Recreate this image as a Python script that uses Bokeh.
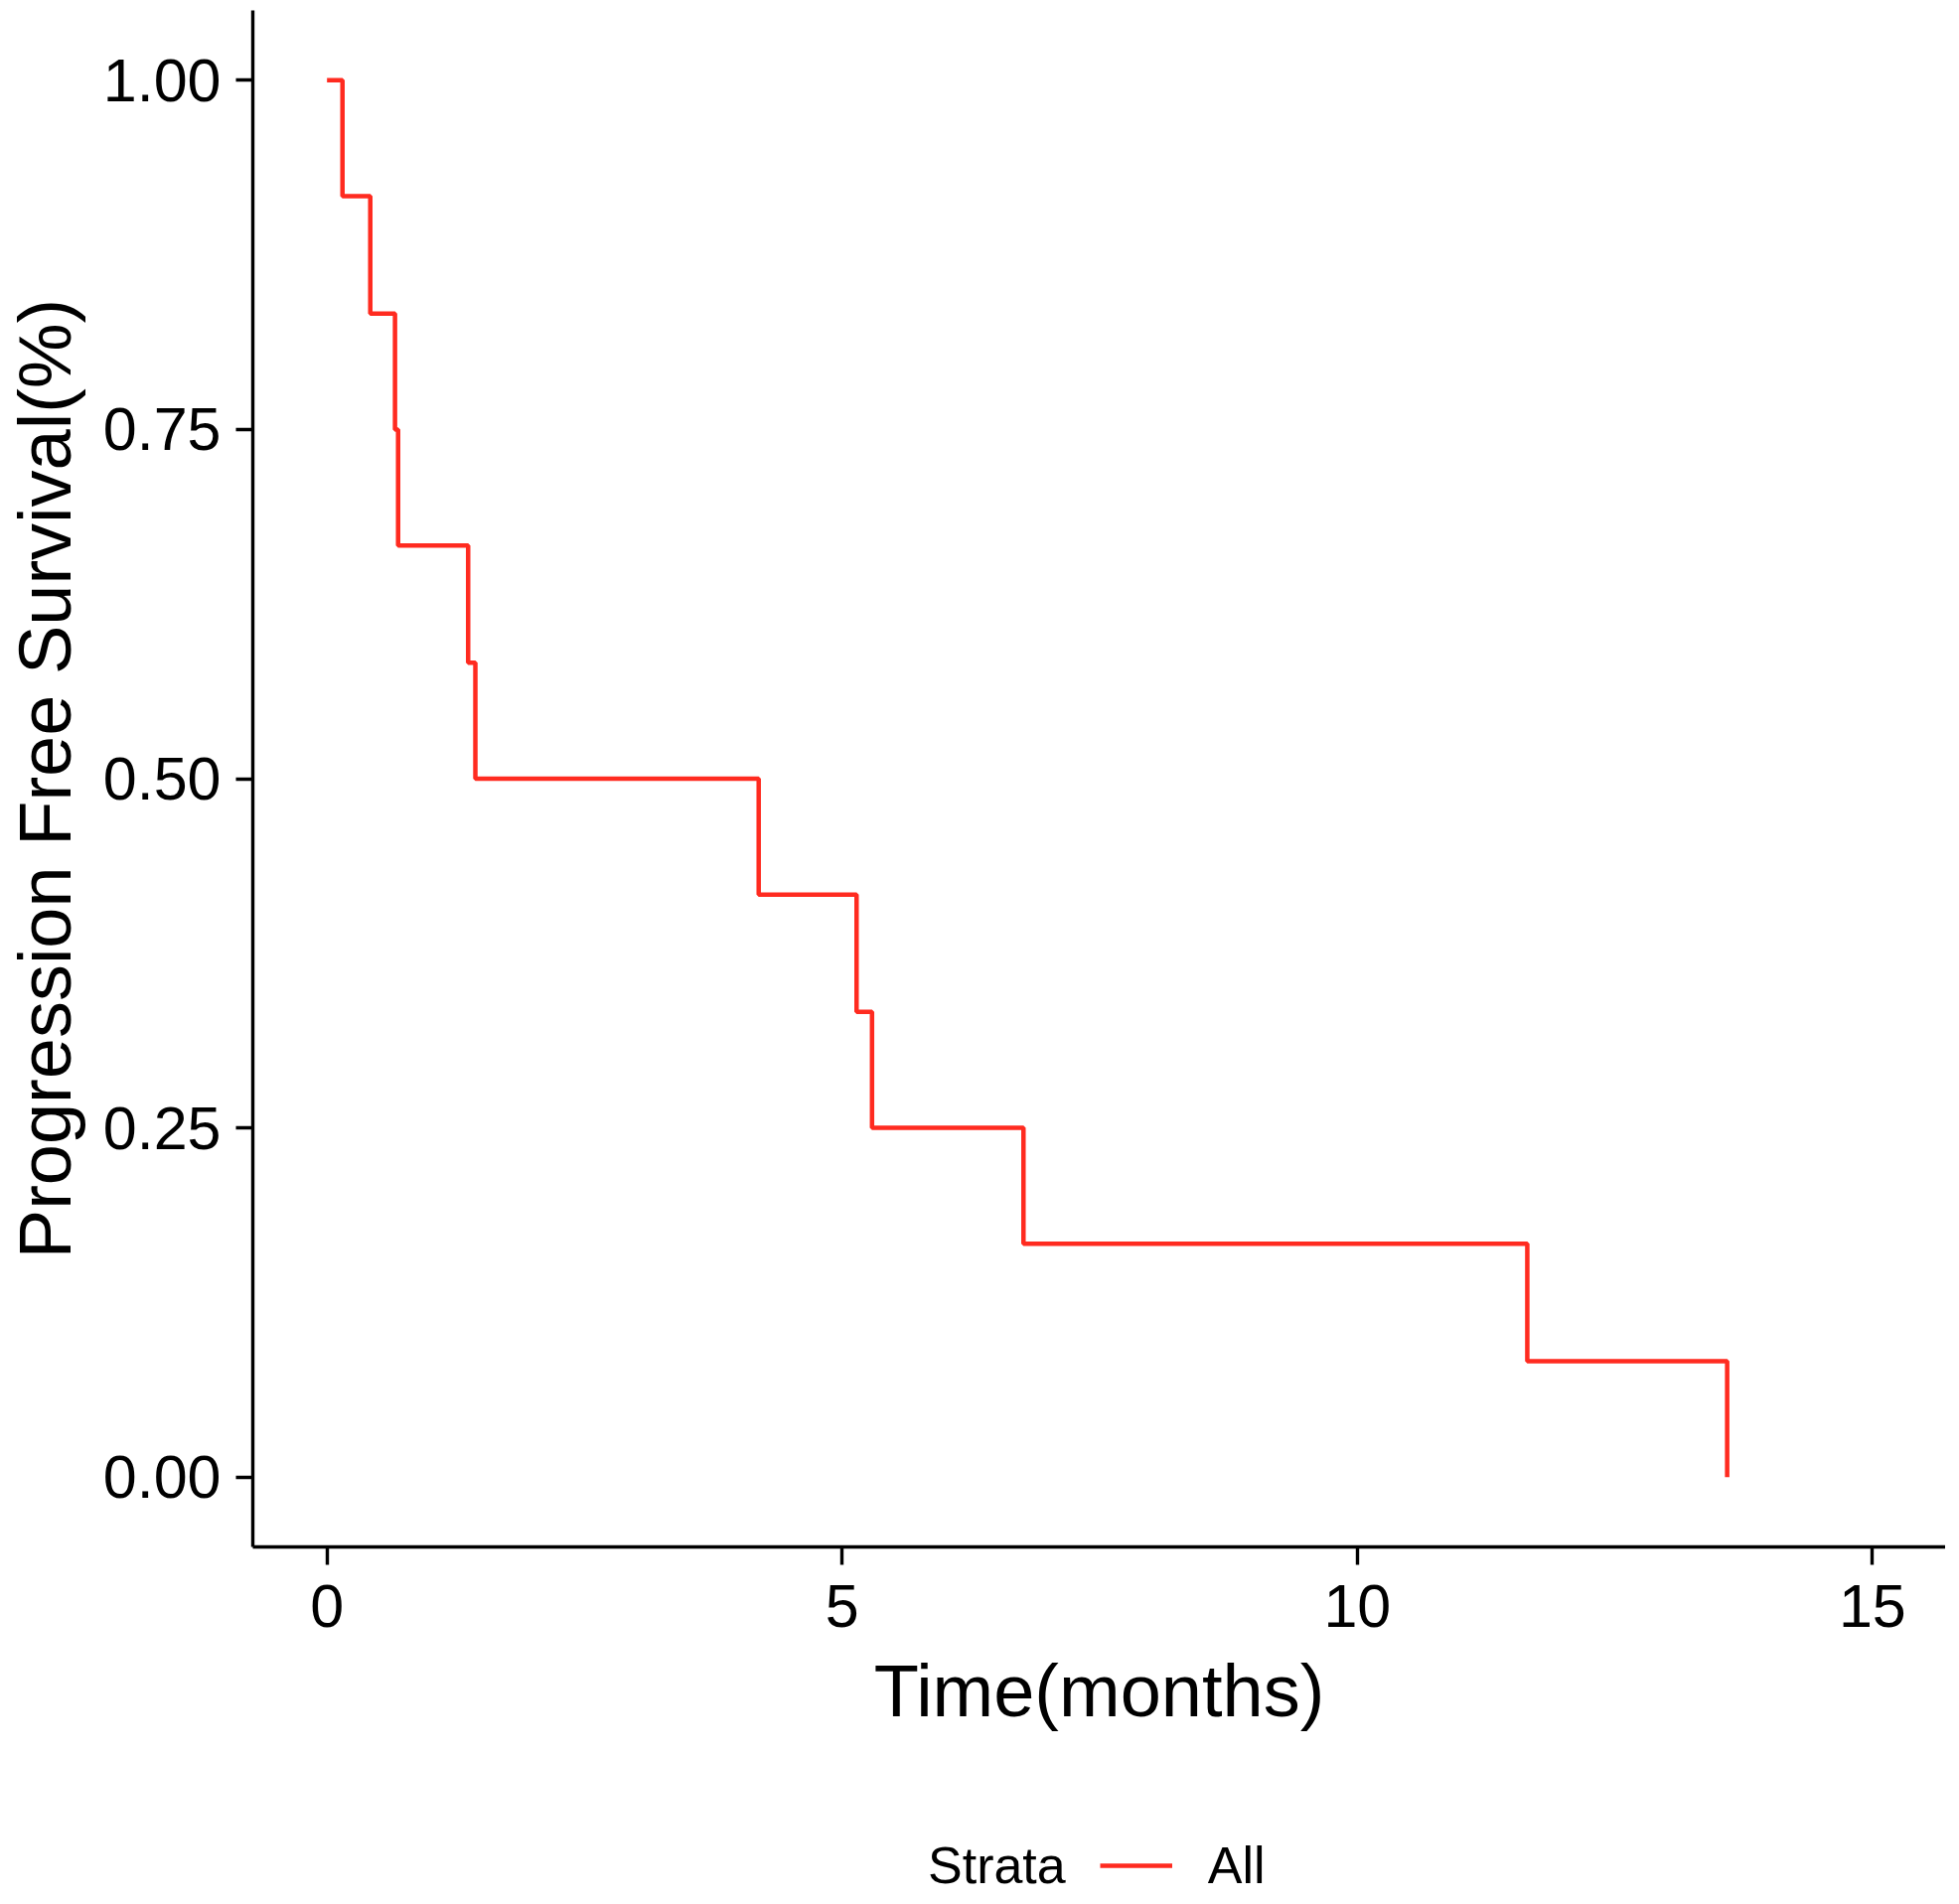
from bokeh.plotting import figure
from bokeh.layouts import column
from bokeh.models import (FixedTicker, NumeralTickFormatter, Legend, LegendItem,
                          Range1d)
from bokeh.embed import file_html
from bokeh.resources import INLINE

# Kaplan-Meier estimate (n = 12)
time_months = [0.0, 0.15, 0.42, 0.66, 0.69, 1.37, 1.44, 4.19, 5.14, 5.29, 6.76, 11.65, 13.59]
survival = [1.000, 0.917, 0.833, 0.750, 0.667, 0.583, 0.500, 0.417, 0.333, 0.250, 0.167, 0.083, 0.000]

x_ticks = [0, 5, 10, 15]
y_ticks = [0.0, 0.25, 0.50, 0.75, 1.00]
strata_title = "Strata"
strata_label = "All"

RED = "#FF2B20"
FONT = "Liberation Sans"
W = 1958
H_MAIN = 1787
H_LEG = 125

p = figure(width=W, height=H_MAIN,
           x_range=Range1d(-0.72, 15.71), y_range=Range1d(-0.05, 1.05),
           output_backend="svg", toolbar_location=None,
           min_border_left=246, min_border_right=0,
           min_border_top=10, min_border_bottom=230)
p.xgrid.grid_line_color = None
p.ygrid.grid_line_color = None
p.outline_line_color = None

for ax in (p.xaxis[0], p.yaxis[0]):
    ax.axis_line_color = "black"
    ax.axis_line_width = 3.4
    ax.major_tick_line_color = "black"
    ax.major_tick_line_width = 3.4
    ax.major_tick_in = 0
    ax.minor_tick_line_color = None
    ax.major_label_text_font = FONT
    ax.major_label_text_font_size = "61px"
    ax.major_label_text_color = "black"
    ax.axis_label_text_font = FONT
    ax.axis_label_text_font_size = "74px"
    ax.axis_label_text_font_style = "normal"
    ax.axis_label_text_color = "black"

p.xaxis[0].ticker = FixedTicker(ticks=x_ticks)
p.xaxis[0].major_tick_out = 18
p.xaxis[0].major_label_standoff = 20
p.xaxis[0].axis_label = "Time(months)"
p.xaxis[0].axis_label_standoff = 20

p.yaxis[0].ticker = FixedTicker(ticks=y_ticks)
p.yaxis[0].formatter = NumeralTickFormatter(format="0.00")
p.yaxis[0].major_tick_out = 17
p.yaxis[0].major_label_standoff = 15
p.yaxis[0].axis_label = "Progression Free Survival(%)"
p.yaxis[0].axis_label_standoff = 14

p.step(time_months, survival, mode="after", line_color=RED, line_width=4.5)

# legend strip below the plot (its frame is aligned with the plot frame)
lg = figure(width=W, height=H_LEG, x_range=Range1d(-0.72, 15.71), y_range=Range1d(0, 1),
            output_backend="svg", toolbar_location=None, min_border=0,
            outline_line_color=None)
lg.axis.visible = False
lg.xgrid.grid_line_color = None
lg.ygrid.grid_line_color = None
# hidden copies of the curve: they only carry the legend styles
title_holder = lg.line(time_months, survival, line_alpha=0, visible=False)
all_swatch = lg.line(time_months, survival, line_color=RED, line_width=4.5, visible=False)

legend = Legend(items=[LegendItem(label=strata_title, renderers=[title_holder]),
                       LegendItem(label=strata_label, renderers=[all_swatch])],
                location=(571, 4), orientation="horizontal",
                padding=0, margin=0, spacing=34,
                border_line_color=None, background_fill_alpha=0,
                inactive_fill_alpha=0,
                glyph_width=73, glyph_height=58, label_height=58,
                label_standoff=36,
                label_text_font=FONT, label_text_font_size="52px",
                label_text_color="black")
lg.add_layout(legend)

layout = column(p, lg, spacing=0)
open("out.html", "w").write(file_html(layout, INLINE))
